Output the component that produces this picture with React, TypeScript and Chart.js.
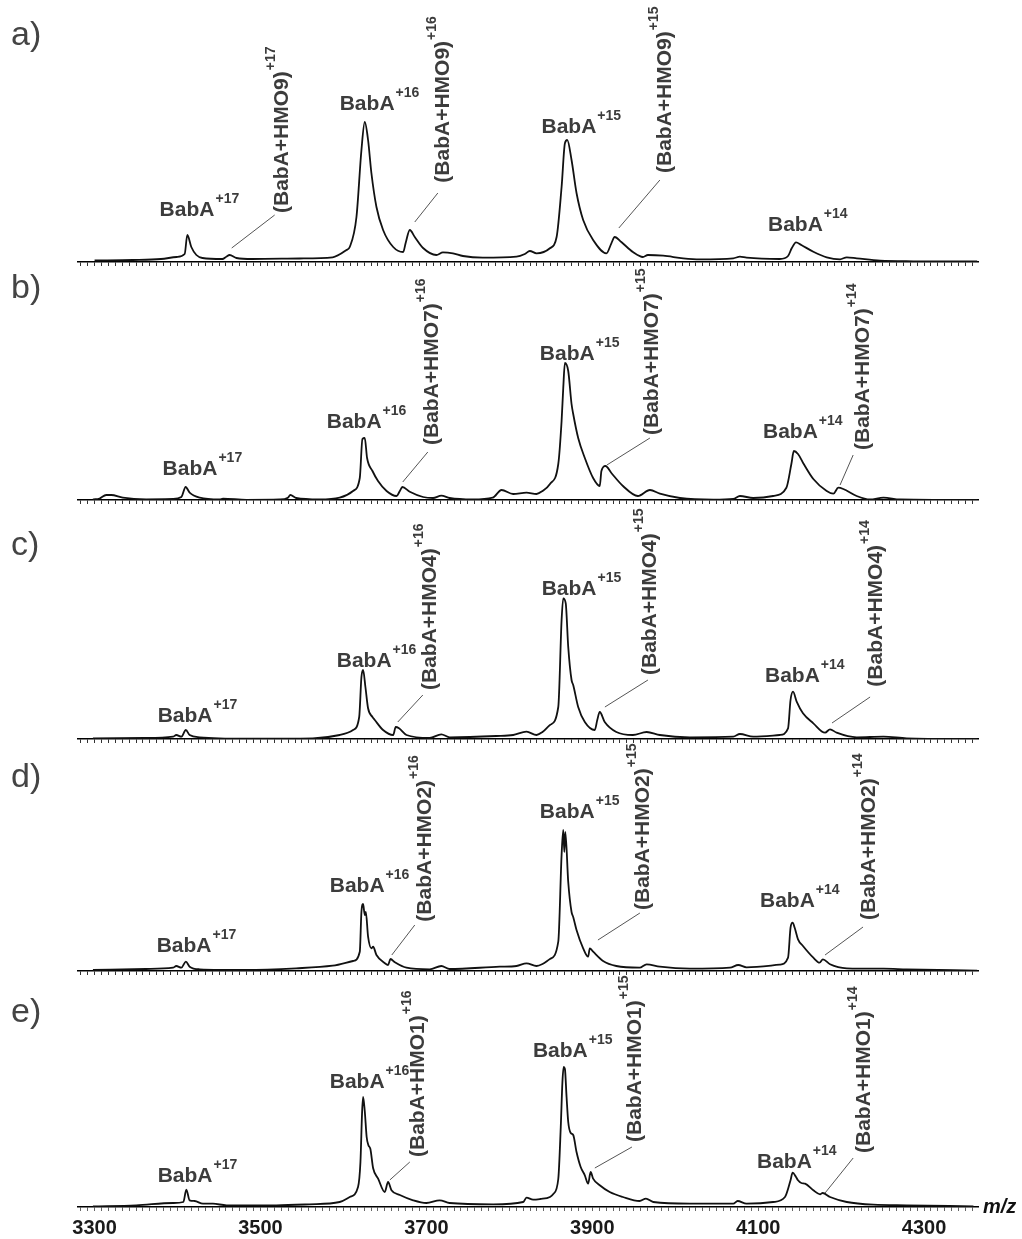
import React, { useEffect, useRef } from 'react';
import { Chart, registerables } from 'chart.js';

Chart.register(...registerables);

// ---- axis ----
const MZ_MIN = 3280;
const MZ_MAX = 4365;
const TICK_LABELS = [3300, 3500, 3700, 3900, 4100, 4300];
const TICK_STEP = 25 / 3;

// ---- a) BabA + HMO9 ----
const MZ_A = [3300, 3346, 3380, 3399, 3408.6, 3411.8, 3416.6, 3422.7, 3430, 3454, 3458.8, 3462.8, 3471, 3490, 3547, 3587, 3603.6, 3607.6, 3615.7, 3621.7, 3625.7, 3629.7, 3633.7, 3639.8, 3647.8, 3660, 3672, 3675, 3680, 3686, 3696, 3712, 3720, 3732, 3744, 3768, 3808.7, 3818.7, 3824.7, 3832.8, 3848.9, 3857, 3863, 3867, 3869.8, 3875, 3881, 3889, 3901, 3917, 3923, 3927, 3935, 3949, 3961, 3967, 3985.5, 4009.6, 4029.8, 4070, 4078, 4086, 4126, 4136, 4140.4, 4145.6, 4152, 4166.5, 4182.6, 4198.7, 4206.8, 4218.8, 4247, 4287, 4364];
const INT_A = [1.5, 2, 3, 5, 8, 27, 15, 7, 4, 3, 5.3, 7, 4, 3, 3.5, 4.7, 12, 15, 45, 112, 140, 122, 89, 55, 32, 15, 10, 19, 32, 25, 14, 7, 9.7, 8.7, 6, 4.3, 5.3, 8, 11, 8.7, 13.7, 25, 75, 118.7, 122, 102, 69, 42, 22, 8.7, 18.7, 25, 20, 10, 5, 7, 6.3, 3.7, 2.7, 3.7, 5.3, 4.3, 3, 6, 13.7, 19.7, 17, 10.3, 4.7, 2.7, 4.7, 3.7, 1.3, 0.7, 0.5];

// ---- b) BabA + HMO7 ----
const MZ_B = [3298, 3306, 3314, 3320, 3334, 3362, 3394.5, 3404.6, 3409.8, 3414.6, 3426.7, 3450.8, 3454.8, 3483, 3523, 3533, 3536, 3543, 3571, 3595.5, 3611.6, 3619.7, 3622.9, 3625.7, 3628.5, 3635, 3641.7, 3652, 3664, 3668, 3671, 3680, 3696, 3708, 3718, 3728, 3756, 3780, 3790.6, 3804.6, 3820.7, 3832.8, 3840, 3849, 3859, 3863, 3865, 3867, 3871, 3875, 3877, 3883, 3891, 3901, 3909, 3911, 3916, 3923, 3937, 3955, 3969.5, 3981.5, 4005.7, 4045.9, 4070, 4078, 4094, 4118, 4134, 4140, 4143, 4148, 4154, 4166.5, 4182.6, 4190.6, 4196.6, 4202.6, 4218.7, 4234.8, 4251, 4271, 4319, 4364];
const INT_B = [0.5, 1.5, 5, 5, 2.3, 0.7, 1, 3, 13, 7.3, 2.3, 0.5, 1.3, 0.2, 0.5, 2.3, 5, 2, 0.5, 2.3, 9, 22, 61, 62, 42, 29, 19, 9, 4, 9, 13, 8.3, 3, 2, 4.3, 2, 0.5, 2.3, 10, 6, 7.3, 6, 9, 16, 36, 79, 112, 137, 129, 96, 86, 62, 42, 22, 14, 29, 34, 27, 14, 4, 10, 6.3, 2, 0.3, 1, 4, 2, 4, 12.3, 36, 49, 46, 37.3, 21, 9, 6.3, 12.3, 11, 4, 0.5, 2.3, 0.5, 0.2, 0];

// ---- c) BabA + HMO4 ----
const MZ_C = [3298, 3360, 3394.5, 3398.5, 3404.6, 3410, 3414.6, 3426.7, 3483, 3563, 3595.5, 3611.6, 3619, 3621.7, 3623.7, 3626.5, 3629.7, 3635, 3637.8, 3647.8, 3660, 3663, 3667, 3676, 3704, 3718, 3728, 3784.5, 3804.6, 3820.7, 3832.8, 3840, 3849, 3859, 3863, 3865, 3868, 3871, 3875, 3877, 3883, 3891, 3903, 3906, 3909, 3915, 3929, 3949, 3965.5, 3981.5, 4017.7, 4070, 4078, 4094, 4126, 4136, 4139, 4142, 4146.4, 4154, 4166.5, 4180.6, 4186.6, 4194.6, 4218.7, 4251, 4279, 4364];
const INT_C = [0.7, 1, 2.3, 4, 2.3, 9, 4, 1.7, 0.3, 0.7, 4, 9, 22, 62, 69, 52, 30.7, 22, 19, 9, 4, 12, 10.7, 4, 1, 4.7, 1.7, 3, 4, 7.3, 4, 7, 14, 32, 119, 140.7, 135.7, 92, 59, 54, 32, 17, 9, 19, 27, 17, 7, 4, 7, 4, 1.7, 2.3, 5, 2.3, 4, 10.7, 39, 47.3, 37.3, 25.7, 15.7, 6.3, 9.7, 6.3, 1.7, 2.3, 0.7, 0];

// ---- d) BabA + HMO2 ----
const MZ_D = [3298, 3362, 3394.5, 3398.5, 3404.6, 3410, 3414.6, 3426.7, 3483, 3543, 3587, 3611.6, 3619.7, 3621.7, 3623.7, 3625.7, 3627, 3629.7, 3633.7, 3635.8, 3639.8, 3650, 3653.8, 3656.7, 3662, 3676, 3704, 3718, 3728, 3788.5, 3808.7, 3820.7, 3832.8, 3840, 3849, 3859, 3863, 3865, 3866.3, 3867.5, 3871, 3875, 3877, 3881, 3889, 3895, 3897, 3901, 3913, 3929, 3957, 3965.5, 3981.5, 4017.7, 4066, 4076, 4086, 4126, 4136, 4139, 4141.5, 4144, 4148, 4154, 4166.5, 4174, 4178, 4186.6, 4206.8, 4251, 4279, 4364];
const INT_D = [1, 2, 3.3, 5, 3.3, 9.3, 4.3, 1.7, 1, 2.7, 5.3, 10, 19.3, 59.3, 67, 56, 59, 34.3, 22.7, 24.3, 16, 7.7, 6, 12, 8.7, 3.3, 1.7, 5, 2, 4.3, 5, 7.7, 5, 7, 12, 29.3, 116, 141, 119, 139, 89, 59, 54, 41, 22.7, 14.3, 22.7, 19.3, 10, 5, 3.3, 6.7, 4.3, 2.3, 3.3, 6, 3.7, 6.3, 13.3, 43.3, 48.3, 43.3, 31.7, 25, 13.3, 8.3, 11.7, 6.7, 2.7, 2.3, 1.7, 0.3];

// ---- e) BabA + HMO1 ----
const MZ_E = [3298, 3350, 3394.5, 3407, 3410.6, 3414.6, 3420.6, 3430.6, 3442.7, 3459, 3519, 3559, 3595.5, 3607.6, 3617.6, 3620.5, 3622.5, 3623.7, 3625.7, 3628, 3630, 3632.5, 3635.8, 3641.8, 3649.8, 3653.8, 3657.9, 3668, 3684, 3700, 3716, 3728, 3780.5, 3816.7, 3820.7, 3828.7, 3837, 3849, 3853, 3859, 3862, 3864, 3865.5, 3867, 3869, 3871, 3874, 3877, 3881, 3886, 3891, 3895, 3898, 3901, 3909, 3921, 3937, 3957, 3964.7, 3973.5, 4017.7, 4070, 4075.2, 4086, 4118, 4132.3, 4139, 4141.5, 4145.6, 4148, 4152, 4156.5, 4166.5, 4174.6, 4177.7, 4186.6, 4206.8, 4238.9, 4279, 4359.5];
const INT_E = [0.7, 1.7, 4, 5, 17.4, 6.7, 6, 3.3, 3.3, 1.7, 1.7, 2.7, 5, 10, 20, 45, 95, 110, 96, 70, 62, 58, 38.7, 28.4, 15, 25, 16.7, 12, 6.7, 4, 6.7, 4, 2.7, 5, 9.4, 7.3, 8, 10, 13, 28, 80, 125, 140, 138, 110, 85, 74, 72, 55, 40, 31.7, 23.4, 35, 28.4, 21.7, 15, 10, 6, 8.4, 5, 3.3, 3.3, 6, 3.3, 5, 10, 26.7, 34.3, 30, 26.7, 24, 23.4, 16.7, 12.7, 14, 10, 5, 2.3, 1.7, 0.7];

// ---- peak labels: ion, charge, m/z of text start, intensity of text baseline ----
type IonTag = { ion: string; charge: string; mz: number; level: number };
// rotated adduct labels with a leader line [m/z, intensity] -> [m/z, intensity]
type AdductTag = IonTag & { from: [number, number]; to: [number, number] };

const TAGS_A: IonTag[] = [
  { ion: 'BabA', charge: '+17', mz: 3378.4, level: 46 },
  { ion: 'BabA', charge: '+16', mz: 3595.5, level: 152 },
  { ion: 'BabA', charge: '+15', mz: 3838.8, level: 128.7 },
  { ion: 'BabA', charge: '+14', mz: 4111.8, level: 31 },
];
const ADDUCTS_A: AdductTag[] = [
  { ion: '(BabA+HMO9)', charge: '+17', mz: 3524.4, level: 49, from: [3517.1, 47], to: [3465.3, 14] },
  { ion: '(BabA+HMO9)', charge: '+16', mz: 3718.6, level: 79.3, from: [3713.8, 69], to: [3686, 40] },
  { ion: '(BabA+HMO9)', charge: '+15', mz: 3985.8, level: 89, from: [3981.5, 82], to: [3932, 34] },
];

const TAGS_B: IonTag[] = [
  { ion: 'BabA', charge: '+17', mz: 3382, level: 25 },
  { ion: 'BabA', charge: '+16', mz: 3579.9, level: 71.7 },
  { ion: 'BabA', charge: '+15', mz: 3836.8, level: 140 },
  { ion: 'BabA', charge: '+14', mz: 4105.8, level: 62 },
];
const ADDUCTS_B: AdductTag[] = [
  { ion: '(BabA+HMO7)', charge: '+16', mz: 3704.7, level: 55, from: [3701.7, 48], to: [3671.5, 18] },
  { ion: '(BabA+HMO7)', charge: '+15', mz: 3970.7, level: 65, from: [3969.5, 62], to: [3917.6, 35] },
  { ion: '(BabA+HMO7)', charge: '+14', mz: 4224, level: 50, from: [4214.5, 45], to: [4198.7, 15] },
];

const TAGS_C: IonTag[] = [
  { ion: 'BabA', charge: '+17', mz: 3376, level: 17.3 },
  { ion: 'BabA', charge: '+16', mz: 3591.9, level: 72.3 },
  { ion: 'BabA', charge: '+15', mz: 3839, level: 144 },
  { ion: 'BabA', charge: '+14', mz: 4108.2, level: 57.3 },
];
const ADDUCTS_C: AdductTag[] = [
  { ion: '(BabA+HMO4)', charge: '+16', mz: 3702.9, level: 49, from: [3695.7, 44], to: [3665.5, 17] },
  { ion: '(BabA+HMO4)', charge: '+15', mz: 3968.3, level: 64, from: [3967.1, 59], to: [3915.2, 32] },
  { ion: '(BabA+HMO4)', charge: '+14', mz: 4239.7, level: 52.3, from: [4234.9, 42], to: [4189, 16] },
];

const TAGS_D: IonTag[] = [
  { ion: 'BabA', charge: '+17', mz: 3374.8, level: 19.3 },
  { ion: 'BabA', charge: '+16', mz: 3583.5, level: 79.3 },
  { ion: 'BabA', charge: '+15', mz: 3836.8, level: 153 },
  { ion: 'BabA', charge: '+14', mz: 4102.2, level: 64.3 },
];
const ADDUCTS_D: AdductTag[] = [
  { ion: '(BabA+HMO2)', charge: '+16', mz: 3696.3, level: 49.3, from: [3686, 46], to: [3658.3, 16] },
  { ion: '(BabA+HMO2)', charge: '+15', mz: 3959.8, level: 61, from: [3957.4, 58], to: [3906.8, 31] },
  { ion: '(BabA+HMO2)', charge: '+14', mz: 4231.2, level: 51, from: [4226.4, 44], to: [4180.6, 16] },
];

const TAGS_E: IonTag[] = [
  { ion: 'BabA', charge: '+17', mz: 3376, level: 25 },
  { ion: 'BabA', charge: '+16', mz: 3583.5, level: 119 },
  { ion: 'BabA', charge: '+15', mz: 3828.4, level: 150 },
  { ion: 'BabA', charge: '+14', mz: 4098.6, level: 39 },
];
const ADDUCTS_E: AdductTag[] = [
  { ion: '(BabA+HMO1)', charge: '+16', mz: 3688.4, level: 50, from: [3680, 45], to: [3655.9, 27] },
  { ion: '(BabA+HMO1)', charge: '+15', mz: 3950, level: 65, from: [3947.8, 60], to: [3903.1, 39] },
  { ion: '(BabA+HMO1)', charge: '+14', mz: 4225.2, level: 54, from: [4214.5, 49], to: [4180.6, 14] },
];

// ---- styling / layout ----
const FONT = '"Liberation Sans", Arial, Helvetica, sans-serif';
const TEXT_COLOR = '#3c3c3c';
const PLOT_H = 240; // chart-area height, one intensity unit per pixel
const TICK_LEN = 4;
const LABEL_PAD = 5;
const LABEL_LINE = 24;

type Panel = {
  letter: string;
  letterLift: number;
  mz: number[];
  intensity: number[];
  tags: IonTag[];
  adducts: AdductTag[];
  axisY: number; // page y of the panel baseline
  padTop: number;
  last: boolean;
};

const PANELS: Panel[] = [
  { letter: 'a)', letterLift: 217, mz: MZ_A, intensity: INT_A, tags: TAGS_A, adducts: ADDUCTS_A, axisY: 262, padTop: 22, last: false },
  { letter: 'b)', letterLift: 202, mz: MZ_B, intensity: INT_B, tags: TAGS_B, adducts: ADDUCTS_B, axisY: 500, padTop: 0, last: false },
  { letter: 'c)', letterLift: 184, mz: MZ_C, intensity: INT_C, tags: TAGS_C, adducts: ADDUCTS_C, axisY: 739, padTop: 0, last: false },
  { letter: 'd)', letterLift: 184, mz: MZ_D, intensity: INT_D, tags: TAGS_D, adducts: ADDUCTS_D, axisY: 971, padTop: 0, last: false },
  { letter: 'e)', letterLift: 185, mz: MZ_E, intensity: INT_E, tags: TAGS_E, adducts: ADDUCTS_E, axisY: 1207, padTop: 0, last: true },
];

const tickValues = (): number[] => {
  const out: number[] = [];
  for (let k = 0; ; k++) {
    const v = 3275 + k * TICK_STEP;
    if (v > MZ_MAX) break;
    if (v >= MZ_MIN) out.push(v);
  }
  return out;
};

const labelPlugin = (p: Panel) => ({
  id: 'peakLabels',
  afterDraw(chart: any) {
    const { ctx, chartArea } = chart;
    const xs = chart.scales.x;
    const ys = chart.scales.y;
    ctx.save();
    ctx.textAlign = 'left';
    ctx.textBaseline = 'alphabetic';

    ctx.font = `34px ${FONT}`;
    ctx.fillStyle = '#444';
    ctx.fillText(p.letter, 11, chartArea.bottom - p.letterLift);

    ctx.fillStyle = TEXT_COLOR;
    for (const t of p.tags) {
      const px = xs.getPixelForValue(t.mz);
      const py = ys.getPixelForValue(t.level);
      ctx.font = `bold 21px ${FONT}`;
      ctx.fillText(t.ion, px, py);
      const w = ctx.measureText(t.ion).width;
      ctx.font = `bold 14px ${FONT}`;
      ctx.fillText(t.charge, px + w + 1, py - 13);
    }

    for (const a of p.adducts) {
      ctx.strokeStyle = '#555';
      ctx.lineWidth = 1;
      ctx.beginPath();
      ctx.moveTo(xs.getPixelForValue(a.from[0]), ys.getPixelForValue(a.from[1]));
      ctx.lineTo(xs.getPixelForValue(a.to[0]), ys.getPixelForValue(a.to[1]));
      ctx.stroke();

      ctx.save();
      ctx.translate(xs.getPixelForValue(a.mz), ys.getPixelForValue(a.level));
      ctx.rotate(-Math.PI / 2);
      ctx.font = `bold 21px ${FONT}`;
      ctx.fillText(a.ion, 0, 7.5);
      const w = ctx.measureText(a.ion).width;
      ctx.font = `bold 14px ${FONT}`;
      ctx.fillText(a.charge, w + 1, 7.5 - 13);
      ctx.restore();
    }

    if (p.last) {
      ctx.fillStyle = '#111';
      ctx.font = `italic bold 20px ${FONT}`;
      ctx.fillText('m/z', chartArea.right + 5, chartArea.bottom + 6);
    }
    ctx.restore();
  },
});

function SpectrumPanel({ p }: { p: Panel }) {
  const ref = useRef<HTMLCanvasElement>(null);
  const axisH = TICK_LEN + (p.last ? LABEL_LINE + 2 * LABEL_PAD : 0);
  const height = Math.round(p.padTop + PLOT_H + axisH);
  const top = p.axisY - PLOT_H - p.padTop;

  useEffect(() => {
    const canvas = ref.current;
    if (!canvas) return;
    const ticks = tickValues();
    const chart = new Chart(canvas, {
      type: 'line',
      data: {
        datasets: [
          {
            data: p.mz.map((x, i) => ({ x, y: p.intensity[i] })),
            borderColor: '#111',
            borderWidth: 1.8,
            pointRadius: 0,
            fill: false,
            cubicInterpolationMode: 'monotone',
          },
        ],
      },
      options: {
        responsive: false,
        animation: false,
        events: [],
        layout: { padding: { left: 78, right: 44, top: p.padTop, bottom: 0 } },
        plugins: { legend: { display: false }, tooltip: { enabled: false } },
        scales: {
          x: {
            type: 'linear',
            min: MZ_MIN,
            max: MZ_MAX,
            afterBuildTicks: (axis: any) => {
              axis.ticks = ticks.map((value) => ({ value }));
            },
            border: { display: true, color: '#000', width: 1.5 },
            grid: {
              drawOnChartArea: false,
              drawTicks: true,
              tickLength: TICK_LEN,
              tickColor: p.last ? '#666' : '#333',
              tickWidth: 1,
            },
            ticks: {
              display: p.last,
              autoSkip: false,
              maxRotation: 0,
              minRotation: 0,
              padding: LABEL_PAD,
              color: '#1a1a1a',
              font: { family: FONT, size: 20, weight: 'bold', lineHeight: `${LABEL_LINE}px` },
              callback: (v: any) => {
                const hit = TICK_LABELS.find((t) => Math.abs(t - Number(v)) < 0.01);
                return hit === undefined ? '' : String(hit);
              },
            },
          },
          y: { type: 'linear', display: false, min: 0, max: PLOT_H },
        },
      },
      plugins: [labelPlugin(p)],
    } as any);
    return () => chart.destroy();
  }, [p]);

  return (
    <canvas
      ref={ref}
      width={1022}
      height={height}
      style={{ position: 'absolute', left: 0, top, width: 1022, height, display: 'block' }}
    />
  );
}

export default function App() {
  return (
    <div
      style={{
        position: 'absolute',
        left: 0,
        top: 0,
        width: 1022,
        height: 1239,
        overflow: 'hidden',
        background: '#fff',
      }}
    >
      {PANELS.map((p) => (
        <SpectrumPanel key={p.letter} p={p} />
      ))}
    </div>
  );
}
